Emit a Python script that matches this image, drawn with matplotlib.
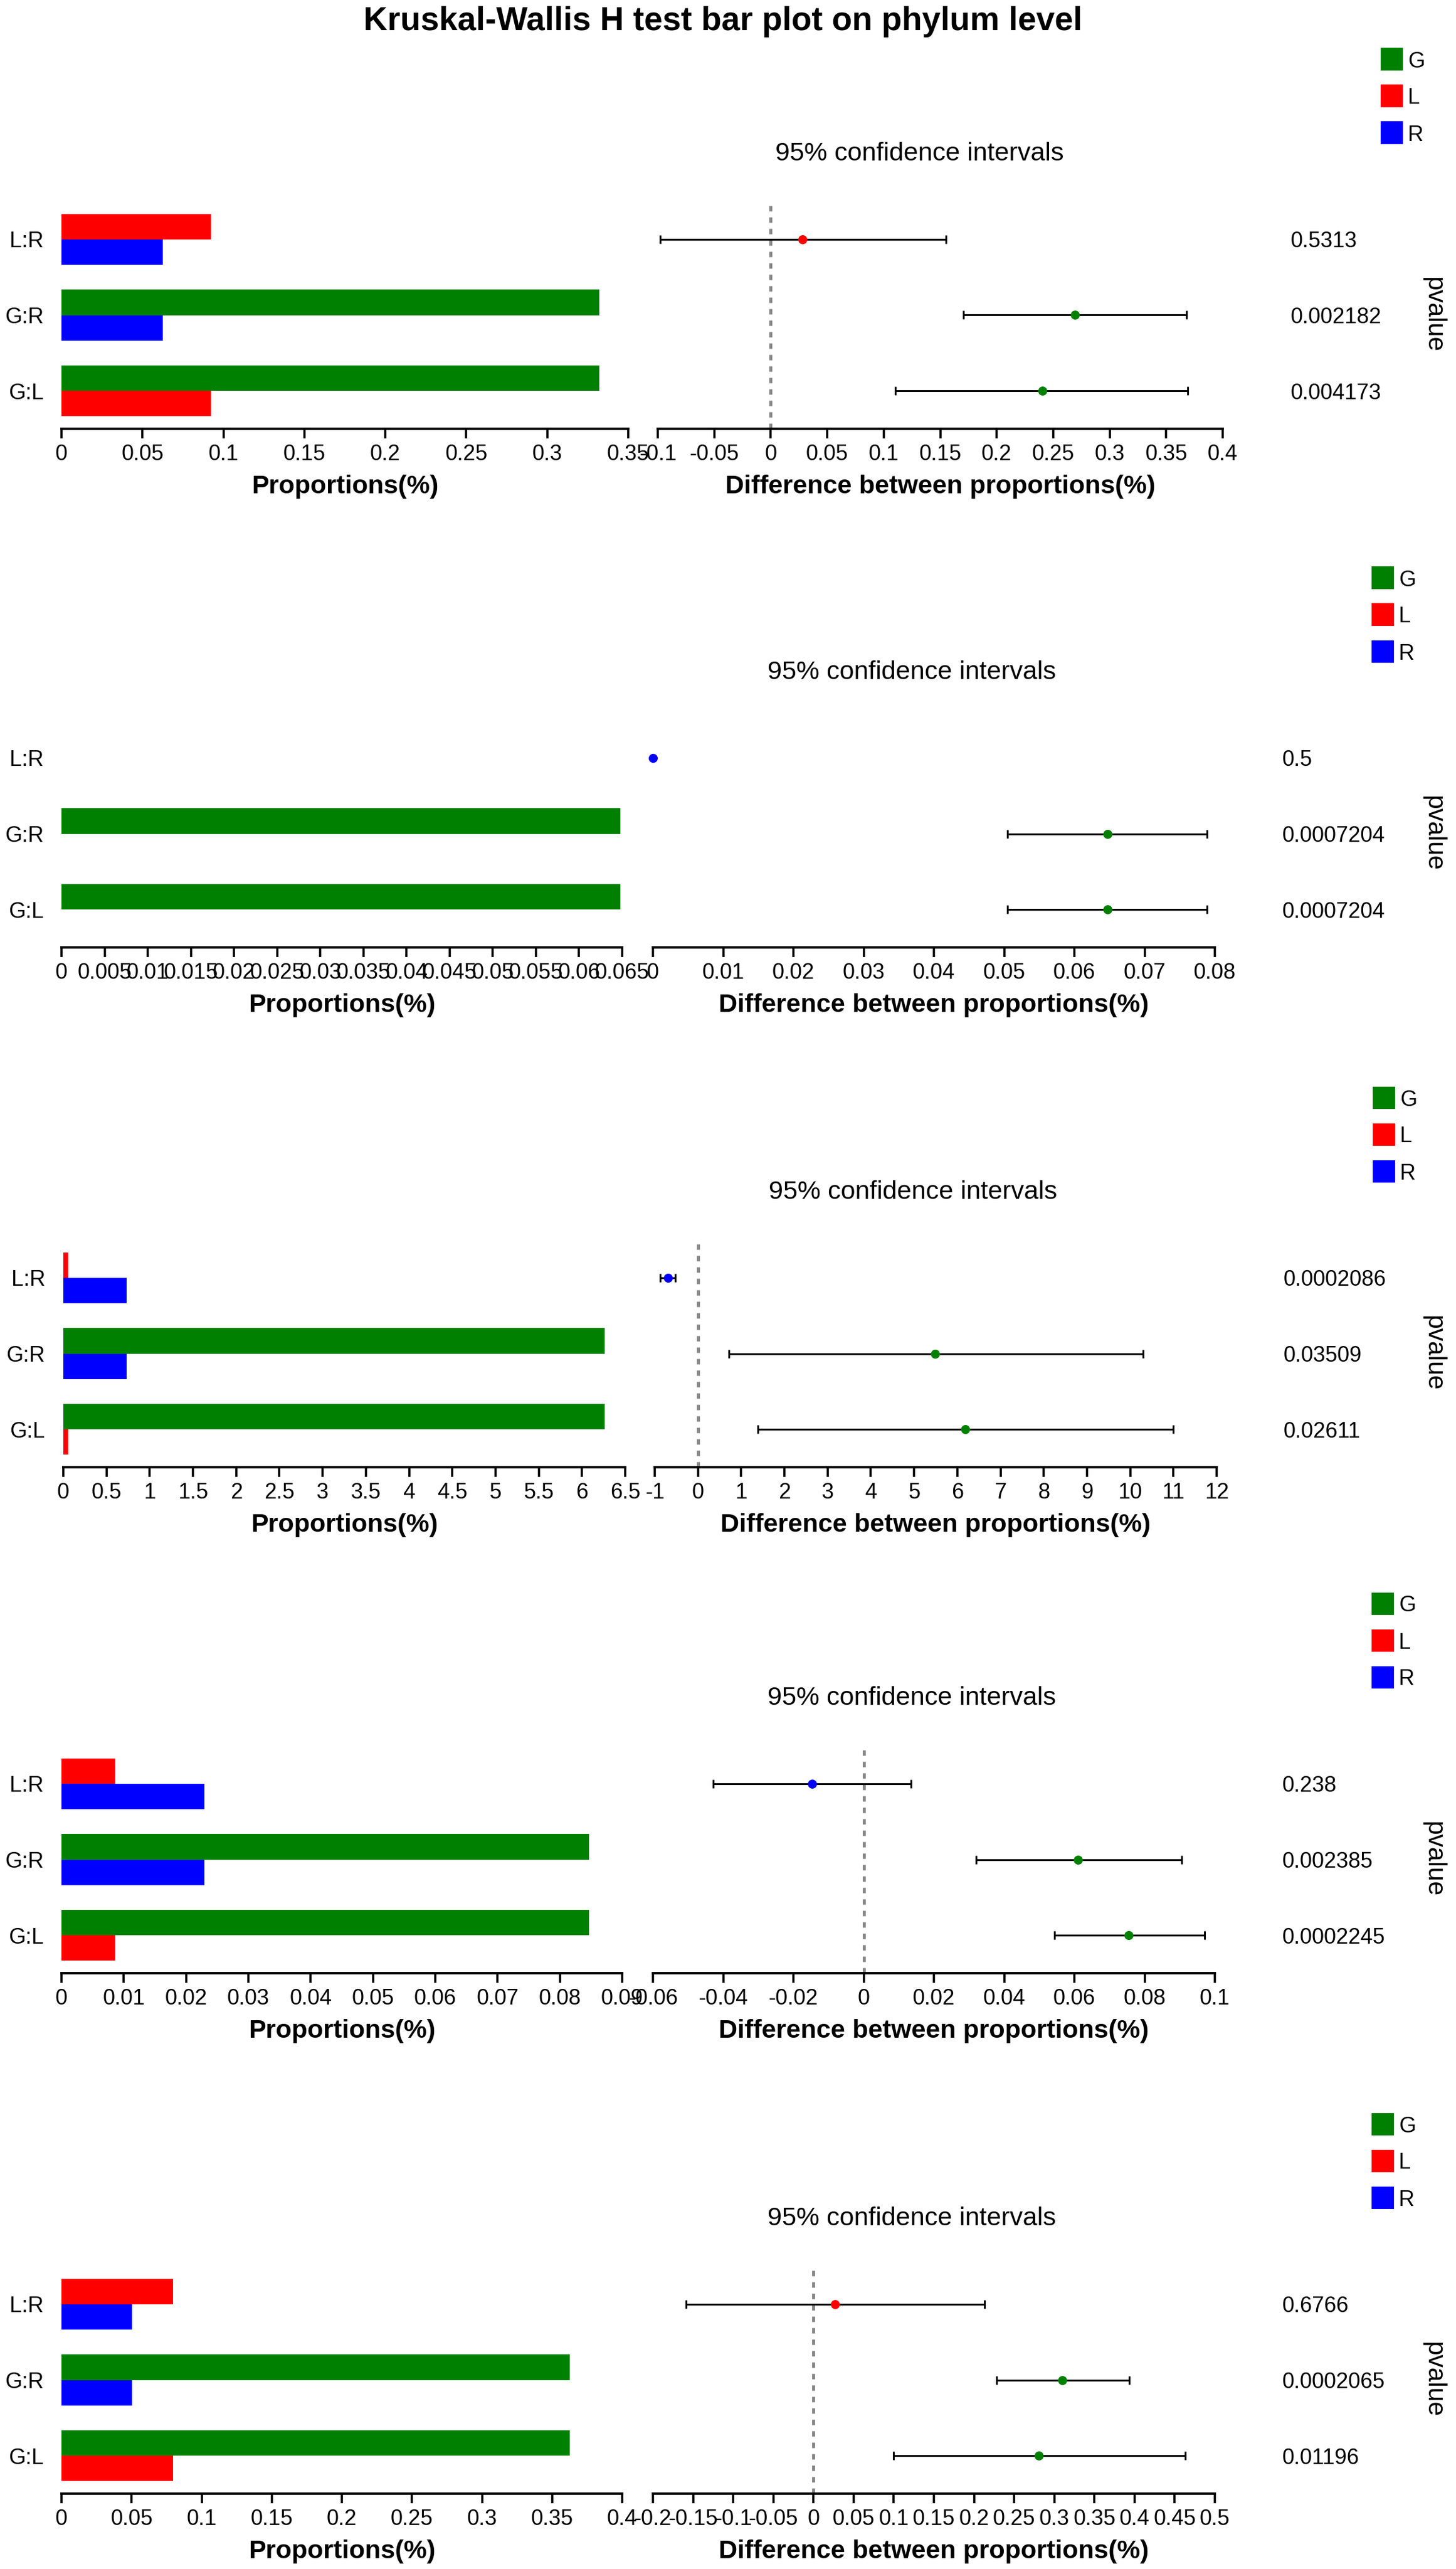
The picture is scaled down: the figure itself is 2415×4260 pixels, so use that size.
import numpy as np
import matplotlib.pyplot as plt
from matplotlib.patches import Rectangle
from matplotlib.transforms import blended_transform_factory

plt.rcParams['font.family'] = ['Liberation Sans', 'DejaVu Sans']

# ---------------------------
# data (5 phyla, 3 groups)
# ---------------------------
groups = ['G', 'L', 'R']
group_colors = {'G': '#008000', 'L': '#FF0000', 'R': '#0000FF'}
comparisons = ['L:R', 'G:R', 'G:L']          # top -> bottom

G_mean = [0.332, 0.0648, 6.263, 0.0847, 0.3624]
L_mean = [0.0923, 0.0, 0.054, 0.00865, 0.0795]
R_mean = [0.0624, 0.0, 0.731, 0.02296, 0.0503]

# difference (point) and 95% CI, order: L:R, G:R, G:L
diff_val = [[0.0283, 0.269, 0.2405],
            [0.0, 0.0647, 0.0647],
            [-0.70, 5.49, 6.18],
            [-0.0146, 0.0611, 0.0754],
            [0.0267, 0.310, 0.281]]
ci_low = [[-0.098, 0.1706, 0.1105],
          [0.0, 0.0505, 0.0505],
          [-0.87, 0.72, 1.39],
          [-0.0428, 0.032, 0.0543],
          [-0.159, 0.228, 0.0995]]
ci_high = [[0.155, 0.368, 0.369],
           [0.0, 0.0789, 0.0789],
           [-0.53, 10.3, 10.99],
           [0.0135, 0.0905, 0.0971],
           [0.213, 0.393, 0.463]]
pvalues = [['0.5313', '0.002182', '0.004173'],
           ['0.5', '0.0007204', '0.0007204'],
           ['0.0002086', '0.03509', '0.02611'],
           ['0.238', '0.002385', '0.0002245'],
           ['0.6766', '0.0002065', '0.01196']]

# axis ticks (start, stop, step)
prop_ticks = [(0, 0.35, 0.05), (0, 0.065, 0.005), (0, 6.5, 0.5), (0, 0.09, 0.01), (0, 0.4, 0.05)]
diff_ticks = [(-0.1, 0.4, 0.05), (0, 0.08, 0.01), (-1, 12, 1), (-0.06, 0.1, 0.02), (-0.2, 0.5, 0.05)]

# ---------------------------
# layout (pixels)
# ---------------------------
W, H = 2415, 4260
panel_off = [0, 860, 1722, 2561, 3424]
left_x = [(102, 1042), (102, 1032), (105, 1037), (102, 1032), (102, 1032)]
right_x = [(1091, 2028), (1083, 2015), (1086, 2018), (1083, 2015), (1083, 2015)]
pval_x = [2141, 2127, 2129, 2127, 2127]
legend_x = [2290, 2275, 2277, 2275, 2275]
ci_title_x = [1525, 1512, 1514, 1512, 1512]
AX_TOP, AX_BOT = 334, 711

TICK_FS = 26
LABEL_FS = 31


def rect(x0, x1, y0, y1):
    return [x0 / W, 1 - y1 / H, (x1 - x0) / W, (y1 - y0) / H]


def fy(py):
    return 1 - py / H


def make_ticks(spec):
    lo, hi, step = spec
    n = int(round((hi - lo) / step))
    vals = [lo + k * step for k in range(n + 1)]
    return vals, [f"{round(v, 6):g}" for v in vals]


def style_axis(ax, spec):
    vals, labs = make_ticks(spec)
    ax.set_xlim(vals[0], vals[-1])
    ax.set_ylim(-0.5, 2.5)
    ax.set_xticks(vals)
    ax.set_xticklabels(labs)
    for s in ['top', 'right', 'left']:
        ax.spines[s].set_visible(False)
    ax.spines['bottom'].set_linewidth(2.9)
    ax.tick_params(axis='x', length=11.5, width=2.6, pad=6.2, labelsize=TICK_FS, direction='out')
    ax.patch.set_alpha(0)


fig = plt.figure(figsize=(W / 100, H / 100), dpi=100)

fig.text(1199 / W, fy(50), 'Kruskal-Wallis H test bar plot on phylum level',
         ha='center', va='baseline', fontsize=39.6, fontweight='bold')

ypos = [2, 1, 0]
bh = 0.335

for i in range(5):
    off = panel_off[i]
    means = {'G': G_mean[i], 'L': L_mean[i], 'R': R_mean[i]}

    # ---- left: proportions bar plot
    axl = fig.add_axes(rect(left_x[i][0], left_x[i][1], AX_TOP + off, AX_BOT + off))
    for comp, y in zip(comparisons, ypos):
        a, b = comp.split(':')
        axl.barh(y + bh / 2, means[a], height=bh, color=group_colors[a], linewidth=0)
        axl.barh(y - bh / 2, means[b], height=bh, color=group_colors[b], linewidth=0)
    style_axis(axl, prop_ticks[i])
    axl.set_yticks(ypos)
    axl.set_yticklabels(comparisons)
    axl.tick_params(axis='y', length=0, pad=21.6, labelsize=TICK_FS)

    # ---- right: difference with CI
    axr = fig.add_axes(rect(right_x[i][0], right_x[i][1], AX_TOP + off, AX_BOT + off))
    style_axis(axr, diff_ticks[i])
    axr.set_yticks([])
    lo_lim = diff_ticks[i][0]
    if lo_lim < 0:
        axr.axvline(0, color='#888888', lw=3.6, linestyle=(0, (1.8, 2.0)), zorder=1)
    for j, (comp, y) in enumerate(zip(comparisons, ypos)):
        a, b = comp.split(':')
        d = diff_val[i][j]
        lo, hi = ci_low[i][j], ci_high[i][j]
        if hi > lo:
            axr.errorbar(d, y, xerr=[[d - lo], [hi - d]], fmt='none', ecolor='black',
                         elinewidth=2.2, capsize=4.7, capthick=2.2, zorder=3)
        c = group_colors[a] if d > 0 else group_colors[b]
        axr.plot(d, y, 'o', color=c, ms=10.8, mec='none', zorder=5, clip_on=False)

    # p-values
    tr = blended_transform_factory(fig.transFigure, axr.transData)
    for j, y in enumerate(ypos):
        fig.text(pval_x[i] / W, y, pvalues[i][j], transform=tr,
                 ha='left', va='center_baseline', fontsize=TICK_FS)
    fig.text(2377 / W, fy(522 + off), 'pvalue', rotation=270,
             ha='center', va='center', fontsize=30.6)

    # legend
    for k, g in enumerate(groups):
        yc = 98 + 61 * k + off
        fig.patches.append(Rectangle((legend_x[i] / W, fy(yc + 18.5)), 37 / W, 37 / H,
                                     transform=fig.transFigure, facecolor=group_colors[g],
                                     edgecolor='none'))
        fig.text((legend_x[i] + 45) / W, fy(yc), g, ha='left', va='center_baseline',
                 fontsize=TICK_FS)

    # titles / labels
    fig.text(ci_title_x[i] / W, fy(266 + off), '95% confidence intervals',
             ha='center', va='baseline', fontsize=LABEL_FS)
    fig.text((left_x[i][0] + left_x[i][1]) / 2 / W, fy(818 + off), 'Proportions(%)',
             ha='center', va='baseline', fontsize=LABEL_FS, fontweight='bold')
    fig.text((right_x[i][0] + right_x[i][1]) / 2 / W, fy(818 + off),
             'Difference between proportions(%)',
             ha='center', va='baseline', fontsize=LABEL_FS, fontweight='bold')

fig.savefig('out.png', dpi=100, facecolor='white')
